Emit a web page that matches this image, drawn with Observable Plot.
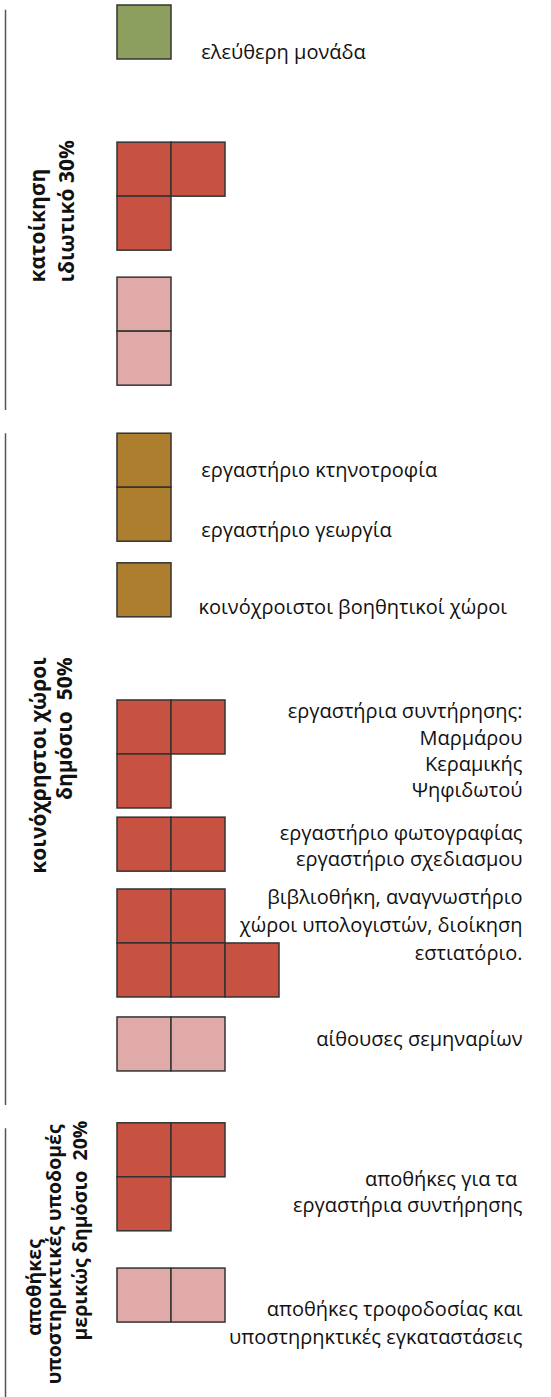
<!DOCTYPE html>
<html>
<head>
<meta charset="utf-8">
<script src="https://cdn.jsdelivr.net/npm/d3@7"></script>
<script src="https://cdn.jsdelivr.net/npm/@observablehq/plot@0.6"></script>
<style>
  html, body { margin: 0; padding: 0; background: #fff; }
  svg text { white-space: pre; }
</style>
</head>
<body>
<div id="chart"></div>
<script>
// ---- data ----
const typeDomain = ["free", "lab", "support", "workshop"];
const typeColors = ["#8c9f5e", "#c75241", "#e0aaa9", "#ad7e2e"];

// each block: type, starting row (in cell units), cells per row
const blockType  = ["free", "lab", "support", "workshop", "workshop", "lab", "lab", "lab", "support", "lab", "support"];
const blockStart = [0, 2.54, 5.04, 7.93, 10.33, 12.87, 15.04, 16.37, 18.74, 20.7, 23.39];
const blockRows  = [[1], [2, 1], [1, 1], [1, 1], [1], [2, 1], [2], [2, 3], [2], [2, 1], [2]];

// descriptive labels
const labelText = [
  "ελεύθερη μονάδα",
  "εργαστήριο κτηνοτροφία",
  "εργαστήριο γεωργία",
  "κοινόχροιστοι βοηθητικοί χώροι",
  "εργαστήρια συντήρησης:",
  "Μαρμάρου",
  "Κεραμικής",
  "Ψηφιδωτού",
  "εργαστήριο φωτογραφίας",
  "εργαστήριο σχεδιασμου",
  "βιβλιοθήκη, αναγνωστήριο",
  "χώροι υπολογιστών, διοίκηση",
  "εστιατόριο.",
  "αίθουσες σεμηναρίων",
  "αποθήκες για τα ",
  "εργαστήρια συντήρησης",
  "αποθήκες τροφοδοσίας και",
  "υποστηρηκτικές εγκαταστάσεις"
];
const labelRow = [0.87, 8.61, 9.72, 11.15, 13.07, 13.57, 14.06, 14.54, 15.33, 15.81, 16.52, 17.04, 17.56, 19.15, 21.74, 22.22, 24.15, 24.67];
const labelCol = [1.55, 1.55, 1.55, 1.5, 7.5, 7.5, 7.5, 7.5, 7.5, 7.5, 7.5, 7.5, 7.5, 7.5, 7.5, 7.5, 7.5, 7.5];
const labelAnchor = ["start", "start", "start", "start", "end", "end", "end", "end", "end", "end", "end", "end", "end", "end", "end", "end", "end", "end"];

// group titles (rotated)
const groupText = [
  "κατοίκηση", "ιδιωτικό 30%",
  "κοινόχρηστοι χώροι", "δημόσιο  50%",
  "αποθήκες", "υποστηρικτικές υποδομές", "μερικώς δημόσιο  20%"
];
const groupCol = [-1.463, -0.926, -1.444, -0.963, -1.537, -1.167, -0.685];
const groupRow = [5.13, 5.13, 12.07, 12.07, 23.74, 20.72, 20.65];
const groupAnchor = ["start", "start", "end", "end", "middle", "end", "end"];
const groupBlock = [1, 1, 2, 2, 3, 3, 3];

// group bracket lines
const bracketCol = -2.074;
const bracketStart = [0.09, 7.93, 20.8];
const bracketEnd   = [7.5, 20.37, 25.9];

// ---- build tables ----
const cells = [];
blockType.forEach((t, i) => {
  blockRows[i].forEach((n, r) => {
    for (let c = 0; c < n; c++) {
      cells.push({type: t, x1: c, x2: c + 1, y1: blockStart[i] + r, y2: blockStart[i] + r + 1});
    }
  });
});
const labels = labelText.map((t, i) => ({text: t, x: labelCol[i], y: labelRow[i], anchor: labelAnchor[i]}));
const groups = groupText.map((t, i) => ({text: t, x: groupCol[i], y: groupRow[i], anchor: groupAnchor[i], block: groupBlock[i]}));
const brackets = bracketStart.map((s, i) => ({x: bracketCol, y1: s, y2: bracketEnd[i]}));

const W = 551, H = 1397, cell = 54, ox = 117, oy = 5;
const fontFamily = "'Open Sans', 'Noto Sans', sans-serif";

const groupMarks = [];
for (const a of ["start", "middle", "end"]) {
  for (const [blocks, size] of [[[1, 2], 21], [[3], 19.5]]) {
    const data = groups.filter(d => d.anchor === a && blocks.includes(d.block));
    if (data.length) groupMarks.push(Plot.text(data, {
      x: "x", y: "y", text: "text", textAnchor: a, rotate: -90,
      fontSize: size, fontWeight: "bold", fill: "#111"
    }));
  }
}

const chart = Plot.plot({
  width: W,
  height: H,
  margin: 0,
  style: {fontFamily, background: "#fff"},
  x: {domain: [-ox / cell, (W - ox) / cell], range: [0, W], axis: null},
  y: {domain: [-oy / cell, (H - oy) / cell], range: [0, H], axis: null},
  color: {domain: typeDomain, range: typeColors},
  marks: [
    Plot.ruleX(brackets, {x: "x", y1: "y1", y2: "y2", stroke: "#555", strokeWidth: 1.5}),
    Plot.rect(cells, {x1: "x1", x2: "x2", y1: "y1", y2: "y2", fill: "type", stroke: "#333", strokeWidth: 1.5}),
    ...["start", "end"].map(a => Plot.text(labels.filter(d => d.anchor === a), {
      x: "x", y: "y", text: "text", textAnchor: a, fontSize: 20, fill: "#111"
    })),
    ...groupMarks
  ]
});
document.getElementById("chart").appendChild(chart);
</script>
</body>
</html>
